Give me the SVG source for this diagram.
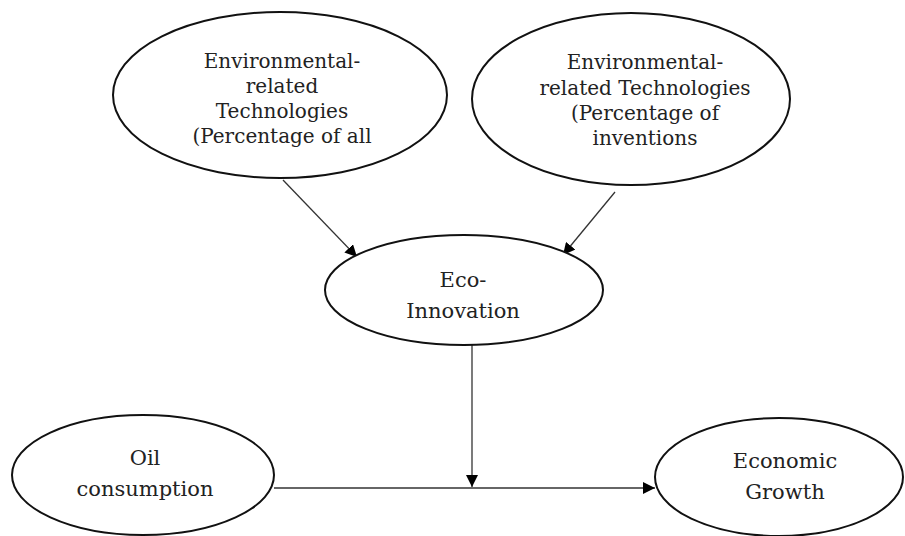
<svg xmlns="http://www.w3.org/2000/svg" width="905" height="536" viewBox="0 0 905 536">
<defs>
<style>
.node ellipse{fill:#fff;stroke:#111;stroke-width:2}
.node text{font-family:"DejaVu Serif","Liberation Serif",serif;font-size:20px;fill:#222;text-anchor:middle}
.node text.l{font-size:21px}
.conn line{stroke:#333;stroke-width:1.3;fill:none}
</style>
<marker id="ah" viewBox="0 0 10 10" refX="10" refY="5" markerWidth="12" markerHeight="12" markerUnits="userSpaceOnUse" orient="auto">
<path d="M0,0 L10,5 L0,10 z" fill="#000"/>
</marker>
</defs>
<rect width="905" height="536" fill="#fff"/>
<g class="conn">
<line x1="283" y1="180" x2="357" y2="257" marker-end="url(#ah)"/>
<line x1="615" y1="192" x2="563" y2="255" marker-end="url(#ah)"/>
<line x1="472" y1="345" x2="472" y2="487" marker-end="url(#ah)"/>
<line x1="274" y1="488" x2="655" y2="488" marker-end="url(#ah)"/>
</g>
<g class="node" id="env1">
<ellipse cx="280" cy="95" rx="167" ry="83"/>
<text x="282" y="68">Environmental-</text>
<text x="282" y="93">related</text>
<text x="282" y="118">Technologies</text>
<text x="282" y="143">(Percentage of all</text>
</g>
<g class="node" id="env2">
<ellipse cx="631" cy="99" rx="159" ry="86"/>
<text x="645" y="69">Environmental-</text>
<text x="645" y="95">related Technologies</text>
<text x="645" y="120">(Percentage of</text>
<text x="645" y="145">inventions</text>
</g>
<g class="node" id="eco">
<ellipse cx="464" cy="290" rx="139" ry="55"/>
<text class="l" x="463" y="287">Eco-</text>
<text class="l" x="463" y="318">Innovation</text>
</g>
<g class="node" id="oil">
<ellipse cx="143" cy="475" rx="131" ry="60"/>
<text class="l" x="145" y="465">Oil</text>
<text class="l" x="145" y="496">consumption</text>
</g>
<g class="node" id="growth">
<ellipse cx="779" cy="477" rx="124" ry="59"/>
<text class="l" x="785" y="468">Economic</text>
<text class="l" x="785" y="499">Growth</text>
</g>
</svg>
